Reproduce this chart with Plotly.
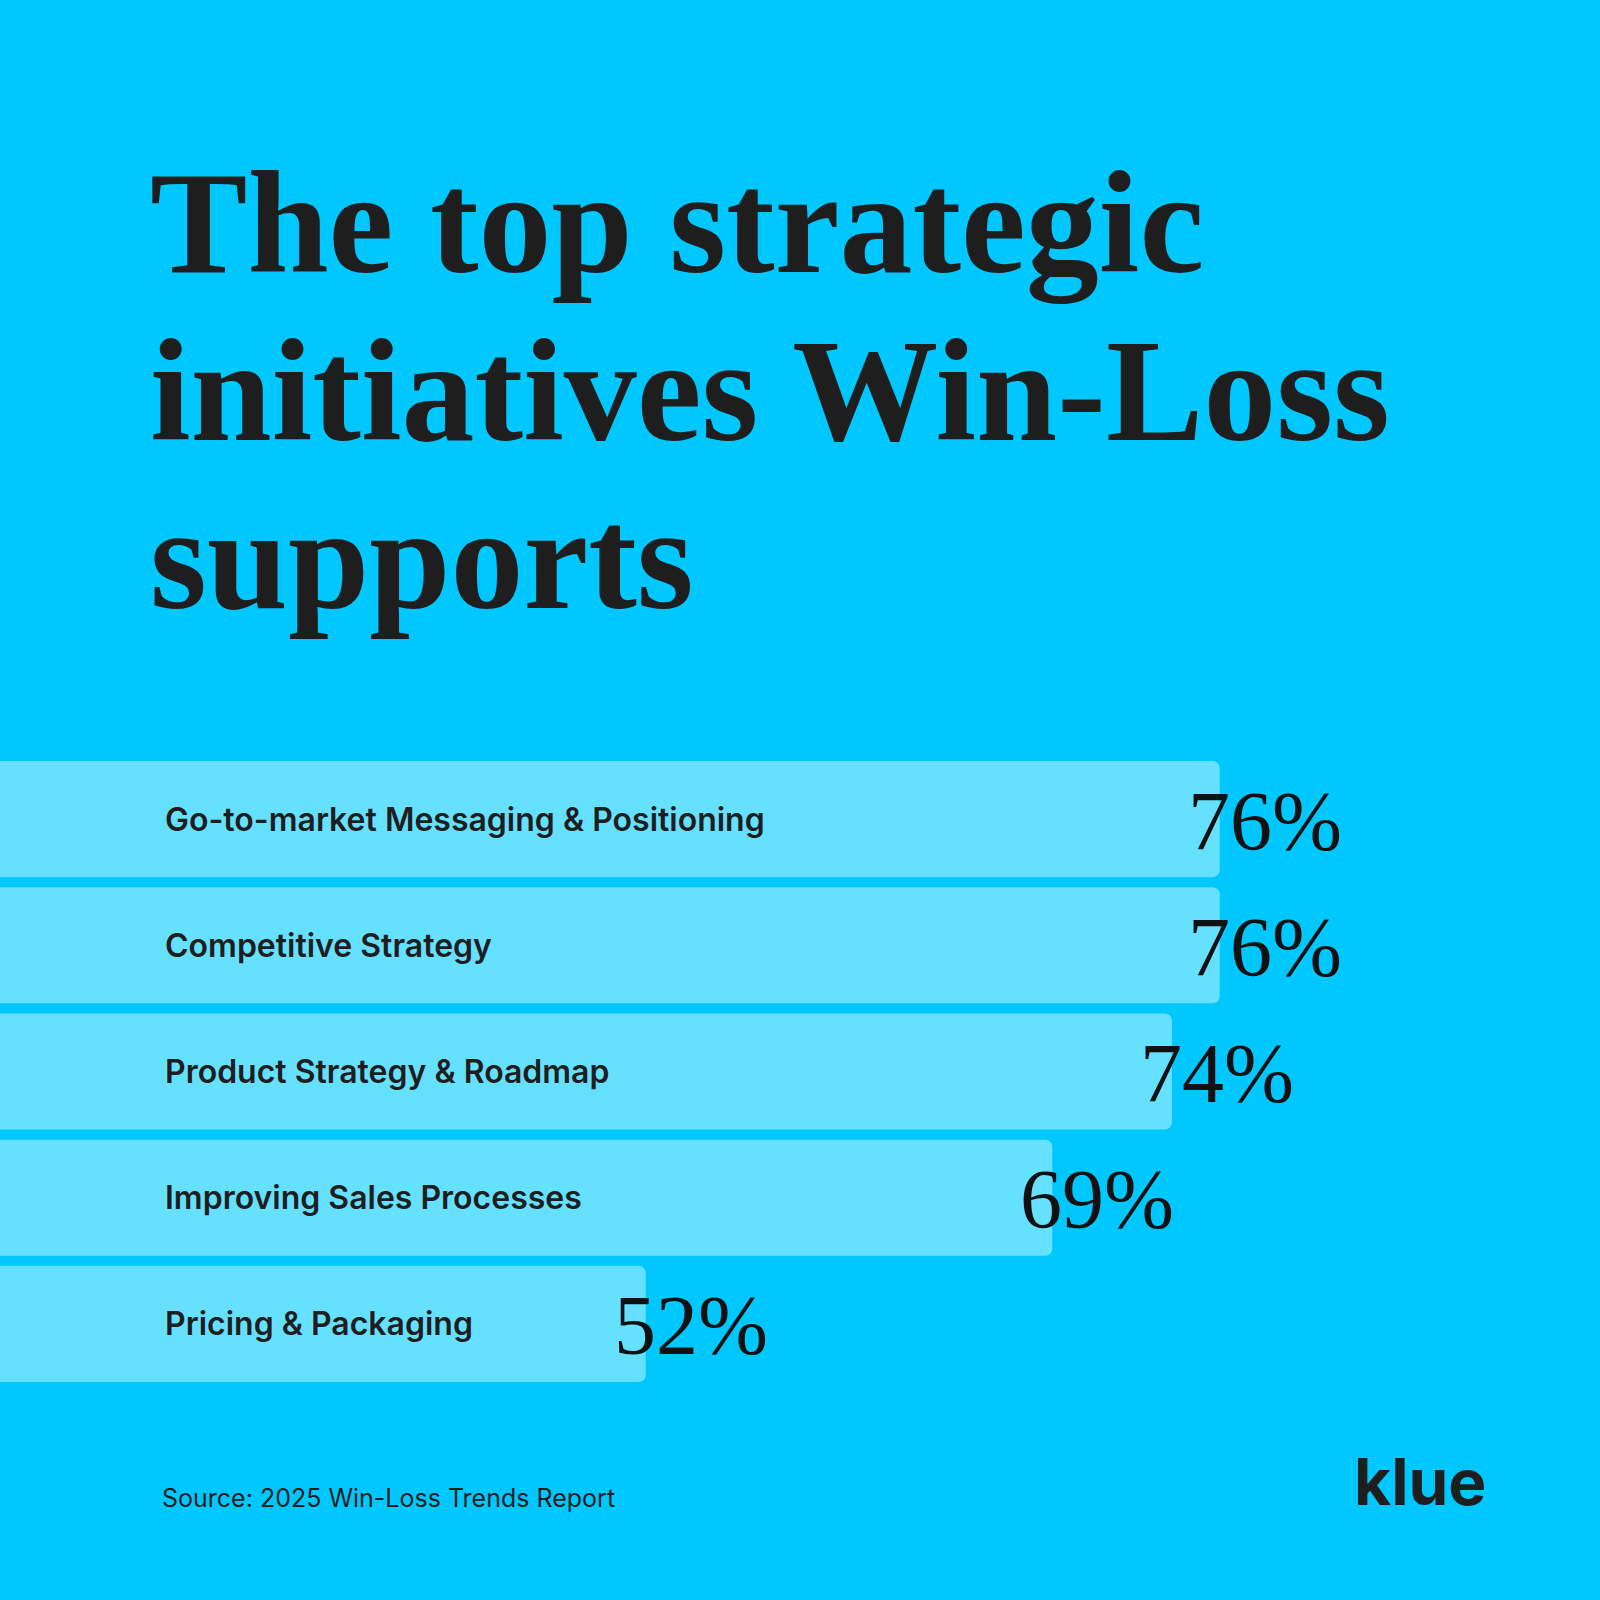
import plotly.graph_objects as go

categories = ["Go-to-market Messaging & Positioning", "Competitive Strategy",
              "Product Strategy & Roadmap", "Improving Sales Processes", "Pricing & Packaging"]
values = [76, 76, 74, 69, 52]
labels = [f"{v}%" for v in values]
title_lines = ["The top strategic", "initiatives Win-Loss", "supports"]

BG = "#00C8FF"
BAR = "#66E0FF"
INK = "#1E1E1E"

fig = go.Figure(go.Bar(
    x=values, y=categories, orientation="h", marker=dict(color=BAR, line=dict(width=0)),
    width=0.92, hoverinfo="skip"))

for c, v, t in zip(categories, values, labels):
    fig.add_annotation(x=v, y=c, xref="x", yref="y", text=t, showarrow=False,
                       xanchor="left", xshift=-34, yshift=-2,
                       font=dict(family="Liberation Serif", size=84, color="#111"))
    fig.add_annotation(x=163/1600, y=c, xref="paper", yref="y", text=c, showarrow=False,
                       xanchor="left", font=dict(family="Inter", size=32, color=INK, weight=600))

for i, line in enumerate(title_lines):
    fig.add_annotation(x=148/1600, y=1-(140+168*i)/1600, xref="paper", yref="paper",
                       xanchor="left", yanchor="top", showarrow=False,
                       text=f"<b>{line}</b>",
                       font=dict(family="Liberation Serif", size=146, color=INK))
fig.add_annotation(x=160/1600, y=1-1515/1600, xref="paper", yref="paper", xanchor="left",
                   showarrow=False, text="Source: 2025 Win-Loss Trends Report",
                   font=dict(family="Inter", size=25, color=INK))
fig.add_annotation(x=1488/1600, y=1-1522/1600, xref="paper", yref="paper", xanchor="right",
                   showarrow=False, text="<b>klue</b>",
                   font=dict(family="Inter", size=64, color=INK))

fig.update_layout(
    width=1600, height=1600, margin=dict(l=0, r=0, t=0, b=0),
    paper_bgcolor=BG, plot_bgcolor=BG, showlegend=False, barcornerradius=7,
    xaxis=dict(range=[25, 91.9], visible=False, domain=[0, 1]),
    yaxis=dict(autorange="reversed", visible=False, domain=[1-1387/1600, 1-756/1600]),
)
fig.write_html("out.html", post_script="document.body.style.margin='0';",
               config={"displayModeBar": False})
